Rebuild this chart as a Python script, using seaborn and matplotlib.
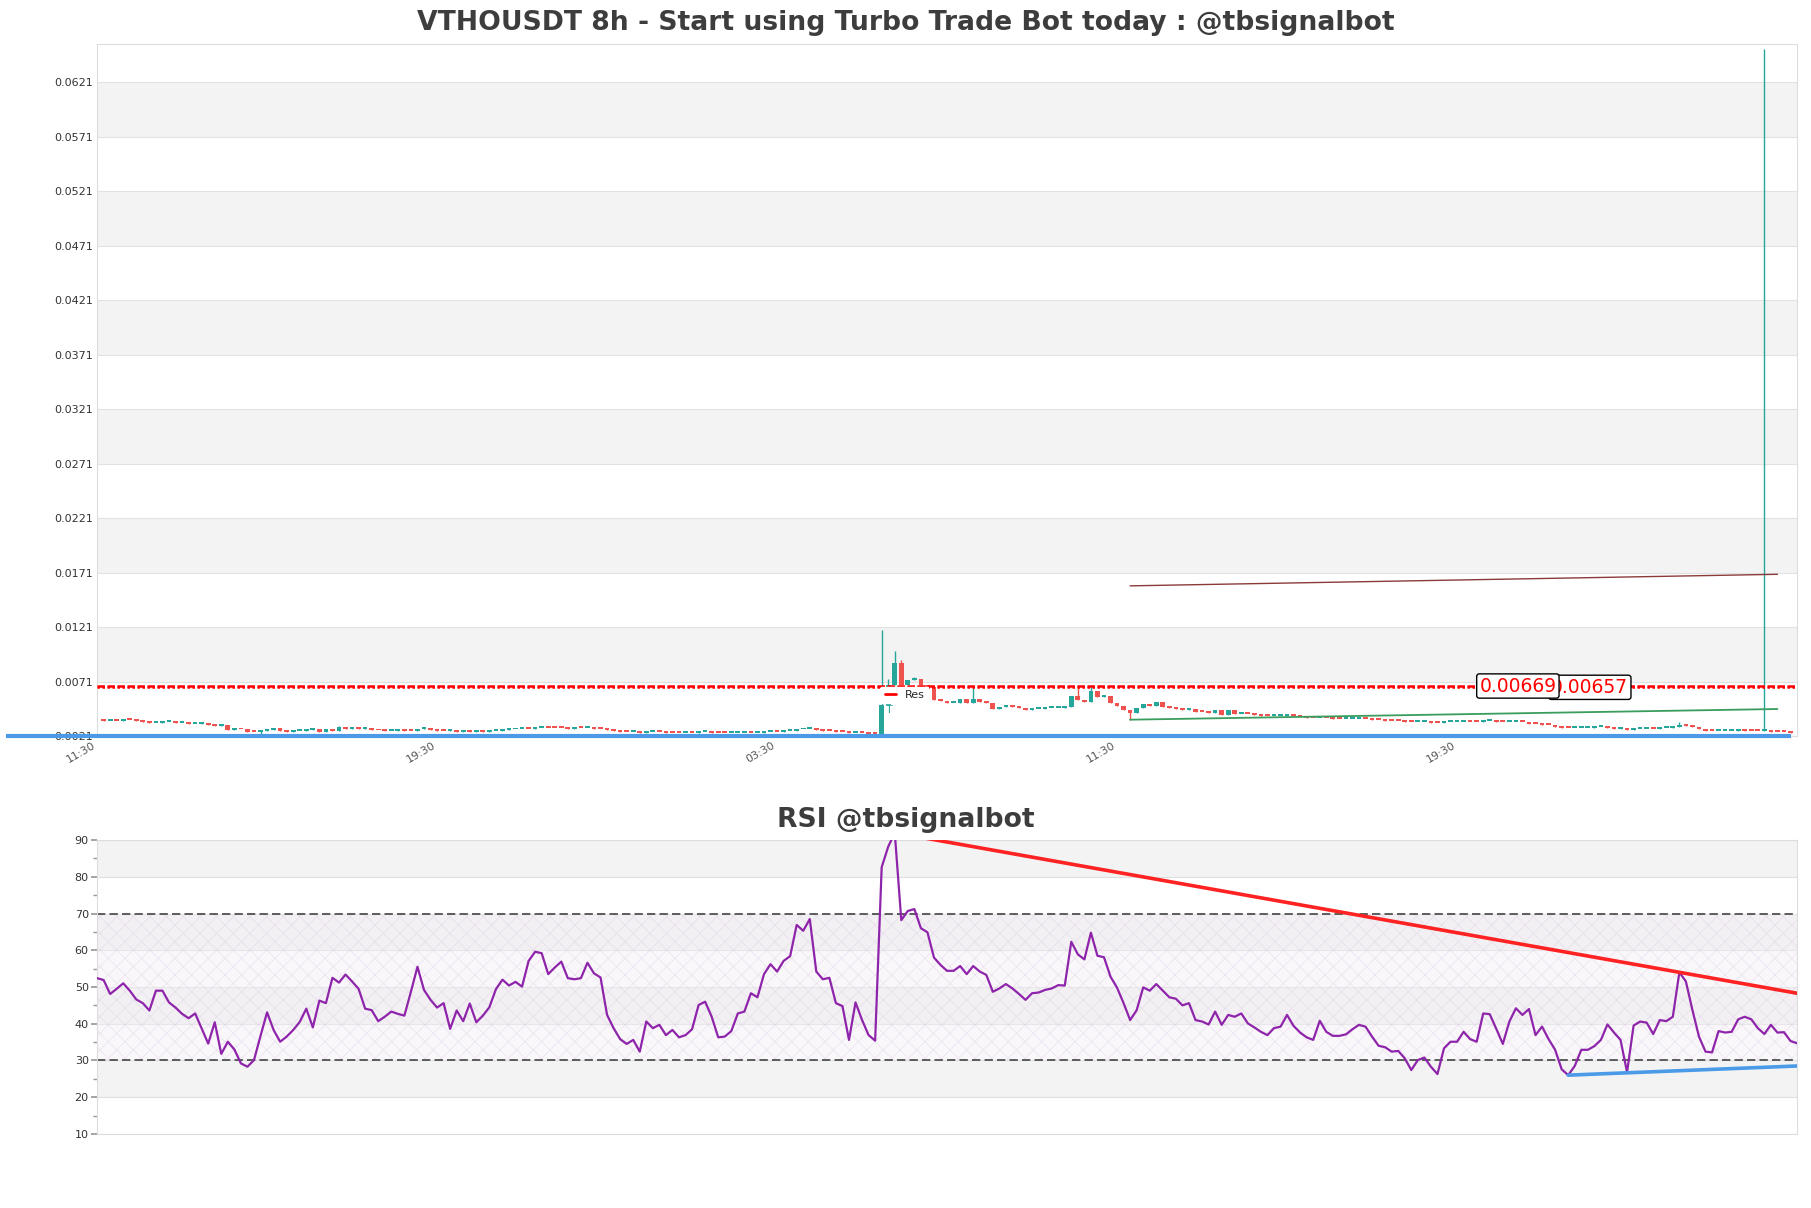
import numpy as np
import pandas as pd
import matplotlib
matplotlib.use("Agg")
import matplotlib.pyplot as plt
import seaborn as sns
from matplotlib.lines import Line2D

# ---------------- data ----------------
title_main = "VTHOUSDT 8h - Start using Turbo Trade Bot today : @tbsignalbot"
title_rsi = "RSI @tbsignalbot"
xtick_pos = [0, 52, 104, 156, 208]
xtick_labels = ["11:30", "19:30", "03:30", "11:30", "19:30"]

# prices in units of 1e-4 USDT
first_open_e4 = 36.5
close_e4 = [
    35.1, 35.2, 34.5, 35.4, 35.3, 34.8, 33.9, 33.0, 33.2, 33.6,
    33.7, 32.8, 32.9, 32.0, 32.0, 32.6, 31.4, 29.9, 31.1, 26.5,
    27.7, 27.0, 24.6, 24.5, 25.3, 26.5, 28.3, 25.6, 24.4, 25.6,
    25.9, 26.5, 27.1, 25.0, 27.1, 25.9, 29.0, 27.7, 29.0, 27.4,
    28.0, 26.2, 26.1, 25.6, 25.9, 26.5, 25.3, 25.2, 27.7, 28.6,
    26.5, 25.9, 25.6, 26.5, 24.4, 25.6, 24.4, 25.6, 24.4, 25.3,
    25.4, 26.6, 27.0, 27.2, 27.4, 27.2, 28.7, 28.7, 28.3, 28.1,
    28.0, 27.9, 28.1, 28.0, 28.1, 27.8, 27.6, 26.5, 25.6, 25.0,
    24.8, 24.9, 24.2, 24.6, 24.7, 24.3, 24.1, 24.0, 23.9, 24.1,
    23.9, 24.4, 24.5, 24.0, 23.5, 23.4, 23.6, 23.8, 23.9, 23.7,
    24.0, 24.6, 25.0, 24.8, 25.6, 26.0, 27.0, 27.2, 27.4, 26.3,
    25.5, 25.4, 24.9, 24.6, 23.8, 24.2, 23.6, 23.0, 22.5, 49.5,
    67.9, 88.3, 67.5, 72.4, 73.0, 67.5, 66.0, 54.0, 53.0, 51.0,
    51.0, 54.7, 51.0, 55.3, 52.5, 51.0, 45.8, 47.4, 48.5, 47.5,
    46.5, 44.5, 45.5, 46.0, 46.5, 47.0, 47.0, 47.5, 58.0, 54.0,
    52.5, 62.6, 57.0, 57.5, 51.5, 49.0, 44.9, 41.8, 46.3, 50.4,
    48.9, 52.2, 48.0, 46.9, 46.2, 45.3, 46.2, 42.8, 42.7, 41.8,
    44.9, 40.3, 44.9, 41.2, 41.5, 40.8, 40.2, 39.6, 39.0, 39.5,
    39.8, 40.2, 39.6, 38.6, 37.8, 37.2, 37.6, 37.2, 36.8, 36.5,
    36.6, 36.8, 36.9, 36.5, 35.9, 35.5, 35.2, 34.9, 34.5, 34.3,
    33.6, 33.8, 33.9, 33.4, 33.0, 33.5, 33.8, 33.9, 34.3, 34.0,
    33.9, 34.8, 35.0, 34.3, 33.6, 33.9, 34.3, 33.5, 32.4, 31.8,
    31.5, 30.8, 29.6, 28.6, 28.2, 28.5, 28.6, 28.7, 29.0, 29.2,
    28.7, 27.8, 28.1, 26.6, 27.3, 27.6, 27.6, 27.5, 28.0, 28.6,
    29.6, 31.0, 30.2, 29.0, 27.6, 26.0, 25.2, 25.6, 25.8, 25.9,
    26.2, 25.9, 25.7, 25.3, 25.5, 24.9, 24.6, 24.3, 24.1,
]
# notable wicks (candle position -> price, 1e-4 units)
high_e4 = {120: 118.0, 121: 73.3, 122: 99.0, 123: 90.8, 125: 75.5,
           134: 65.7, 150: 65.7, 152: 67.5, 242: 34.3, 255: 651.0,
           4: 36.6, 25: 26.3, 37: 30.0, 67: 29.6, 112: 26.0}
low_e4 = {158: 35.7, 25: 23.2, 120: 21.6, 83: 23.4}

rsi = [
    52.4, 51.9, 48.1, 49.5, 51.0, 49.0, 46.6, 45.6, 43.6, 49.0,
    49.0, 45.8, 44.4, 42.7, 41.5, 42.8, 38.7, 34.6, 40.4, 31.8,
    35.1, 33.0, 29.2, 28.3, 30.1, 36.7, 43.1, 38.3, 35.1, 36.5,
    38.3, 40.5, 44.1, 39.0, 46.3, 45.6, 52.5, 51.2, 53.4, 51.5,
    49.5, 44.1, 43.7, 40.7, 41.9, 43.3, 42.7, 42.2, 48.7, 55.5,
    49.2, 46.5, 44.4, 45.6, 38.6, 43.6, 40.7, 45.5, 40.4, 42.2,
    44.5, 49.4, 52.0, 50.4, 51.4, 50.1, 57.1, 59.6, 59.2, 53.5,
    55.3, 56.9, 52.4, 52.1, 52.4, 56.6, 53.7, 52.6, 42.4, 38.8,
    35.8, 34.5, 35.6, 32.4, 40.6, 38.8, 39.7, 36.9, 38.3, 36.3,
    36.9, 38.5, 45.1, 46.0, 41.9, 36.3, 36.5, 38.0, 42.8, 43.3,
    48.3, 47.2, 53.5, 56.2, 54.2, 57.1, 58.4, 66.9, 65.3, 68.5,
    54.2, 52.1, 52.5, 45.6, 44.8, 35.6, 45.8, 41.0, 36.9, 35.4,
    82.6, 88.2, 92.0, 68.2, 70.7, 71.2, 66.0, 64.9, 58.0, 56.0,
    54.4, 54.4, 55.7, 53.5, 55.7, 54.2, 53.3, 48.7, 49.6, 50.8,
    49.6, 48.1, 46.5, 48.3, 48.5, 49.2, 49.6, 50.5, 50.4, 62.3,
    58.9, 57.5, 64.8, 58.5, 58.1, 52.8, 49.8, 45.6, 41.0, 43.7,
    49.9, 49.0, 50.8, 49.0, 47.2, 46.8, 45.0, 45.6, 41.0, 40.6,
    39.8, 43.3, 39.7, 42.4, 41.9, 42.8, 40.1, 39.0, 37.8, 36.9,
    38.8, 39.2, 42.4, 39.4, 37.6, 36.3, 35.6, 40.8, 37.8, 36.7,
    36.7, 37.1, 38.5, 39.7, 39.2, 36.5, 34.0, 33.6, 32.4, 32.6,
    30.6, 27.4, 30.1, 30.8, 28.3, 26.3, 33.3, 35.1, 35.1, 37.8,
    35.8, 35.1, 42.8, 42.6, 38.6, 34.5, 40.6, 44.2, 42.4, 44.0,
    36.9, 39.2, 35.8, 32.9, 27.6, 26.0, 28.5, 32.9, 32.9, 33.9,
    35.6, 39.8, 37.6, 35.6, 26.8, 39.5, 40.6, 40.3, 37.2, 41.0,
    40.7, 41.9, 54.0, 51.5, 43.7, 36.5, 32.4, 32.2, 38.0, 37.6,
    37.8, 41.2, 41.9, 41.2, 38.8, 37.2, 39.7, 37.6, 37.7, 35.3,
    34.7,
]

res_levels = [0.00657, 0.00669]
res_text = ["0.00657", "0.00669"]
res_text_x = [228.3, 217.3]
support_x, support_y = [158, 257], [0.00360, 0.00458]
upper_x, upper_y = [158, 257], [0.01588, 0.01694]
base_x, base_y = [-14, 259], [0.00211, 0.00211]
rsi_res_x, rsi_res_y = [122, 260], [92.0, 48.3]
rsi_sup_x, rsi_sup_y = [225, 260], [26.0, 28.5]

# ---------------- frames ----------------
closes = np.array(close_e4) * 1e-4
opens = np.concatenate([[first_open_e4 * 1e-4], closes[:-1]])
pos = np.arange(1, len(closes) + 1)
df = pd.DataFrame({"pos": pos, "open": opens, "close": closes})
df["high"] = df[["open", "close"]].max(axis=1)
df["low"] = df[["open", "close"]].min(axis=1)
for k, v in high_e4.items():
    df.loc[df.pos == k, "high"] = v * 1e-4
for k, v in low_e4.items():
    df.loc[df.pos == k, "low"] = v * 1e-4
rsi_df = pd.DataFrame({"idx": np.arange(len(rsi)), "rsi": rsi})

UP, DN = "#26a69a", "#ef5350"
df["col"] = np.where(df.close >= df.open, UP, DN)

# ---------------- style ----------------
sns.set_theme(style="white")
plt.rcParams["font.family"] = ["DejaVu Sans"]
plt.rcParams["hatch.linewidth"] = 0.5

fig = plt.figure(figsize=(18.11, 12.08), dpi=100)
ax = fig.add_axes([0.0536, 0.3907, 0.9387, 0.5729])
ax2 = fig.add_axes([0.0536, 0.0613, 0.9387, 0.2433])

# ---------- price panel ----------
ymin, ymax = 0.0021, 0.0656
ticks = np.arange(0.0021, 0.0622, 0.005)
for k, t in enumerate(ticks):
    if k % 2 == 1:
        ax.axhspan(t, t + 0.005, color="#f3f3f3", zorder=0, lw=0)
    ax.axhline(t, color="#e2e2e2", lw=0.8, zorder=0.5)

body_bottom = df[["open", "close"]].min(axis=1)
body_h = np.maximum((df.close - df.open).abs(), 0.00018)
ax.vlines(df.pos, df.low, df.high, colors=df.col, lw=1.0, zorder=2)
ax.bar(df.pos, body_h, bottom=body_bottom, width=0.72, color=df.col,
       linewidth=0, zorder=3)

ax.plot([0, 260], [res_levels[1]] * 2, color="red", lw=1.8, ls=(0, (3, 1)), zorder=4)
ax.plot([0, 260], [res_levels[0]] * 2, color="red", lw=1.8, ls=(0, (1, 1)), zorder=4)

ax.plot(upper_x, upper_y, color="#8b3a3a", lw=1.0, zorder=4)
ax.plot(support_x, support_y, color="#3a9d5d", lw=1.3, zorder=4)
ax.plot(base_x, base_y, color="#4a9ae8", lw=3, zorder=6, clip_on=False,
        solid_capstyle="butt")

for tx, lvl, s in zip(res_text_x, res_levels, res_text):
    ax.text(tx, lvl, s, color="red", fontsize=13.5, ha="center", va="center",
            zorder=10,
            bbox=dict(boxstyle="round,pad=0.14", fc="white", ec="black", lw=1))

ax.text(120.6, 0.00492, "T", color=UP, fontsize=8, ha="left", va="top", zorder=5)

leg = ax.legend(handles=[Line2D([0], [0], color="red", lw=2)], labels=["Res"],
                loc="lower left", bbox_to_anchor=(0.458, 0.039), fontsize=8,
                frameon=True, framealpha=1, edgecolor="white", fancybox=False,
                handlelength=1.0, borderpad=0.3, handletextpad=0.8)
leg.set_zorder(8)

ax.set_xlim(0, 260)
ax.set_ylim(ymin, ymax)
ax.set_yticks(ticks)
ax.set_yticklabels([f"{t:.4f}" for t in ticks], fontsize=8, color="#333333")
ax.set_xticks(xtick_pos)
ax.set_xticklabels(xtick_labels, rotation=30, ha="right", fontsize=8,
                   color="#555555")
ax.tick_params(axis="both", length=0, pad=3)
for sp in ax.spines.values():
    sp.set_color("#dddddd")
    sp.set_linewidth(0.8)

# ---------- RSI panel ----------
for lo in [20, 40, 60, 80]:
    ax2.axhspan(lo, lo + 10, color="#f3f3f3", zorder=0, lw=0)
for t in range(10, 91, 10):
    ax2.axhline(t, color="#e0e0e0", lw=0.8, zorder=0.5)
ax2.fill_between([0, 260], 30, 70, facecolor="#f4eef7", alpha=0.45,
                 hatch="xx", edgecolor="#d6c8de", linewidth=0, zorder=1)
ax2.axhline(70, color="#444444", lw=1.2, ls=(0, (5, 2.5)), zorder=2)
ax2.axhline(30, color="#444444", lw=1.2, ls=(0, (5, 2.5)), zorder=2)

sns.lineplot(data=rsi_df, x="idx", y="rsi", ax=ax2, color="#8e24aa", lw=1.6,
             zorder=4)
ax2.plot(rsi_res_x, rsi_res_y, color="#ff2222", lw=2.6, zorder=5)
ax2.plot(rsi_sup_x, rsi_sup_y, color="#4a9ae8", lw=2.6, zorder=5)

ax2.set_xlim(0, 260)
ax2.set_ylim(10, 90)
ax2.set_yticks(range(10, 91, 10))
ax2.set_yticks(range(15, 90, 10), minor=True)
ax2.set_yticklabels([str(t) for t in range(10, 91, 10)], fontsize=8, color="#333333")
ax2.set_xticks([])
ax2.set_xlabel("")
ax2.set_ylabel("")
ax2.tick_params(axis="y", which="major", left=True, length=4, color="#999999", pad=2)
ax2.tick_params(axis="y", which="minor", left=True, length=3, color="#999999")
for sp in ax2.spines.values():
    sp.set_color("#dddddd")
    sp.set_linewidth(0.8)

# ---------- titles ----------
fig.text(0.5, 1 - 23 / 1208, title_main, ha="center", va="center",
         fontsize=19.2, fontweight="bold", color="#3d3d3d")
fig.text(0.5, 1 - 820 / 1208, title_rsi, ha="center", va="center",
         fontsize=19.2, fontweight="bold", color="#3d3d3d")

fig.savefig("out.png", dpi=100, facecolor="white")
